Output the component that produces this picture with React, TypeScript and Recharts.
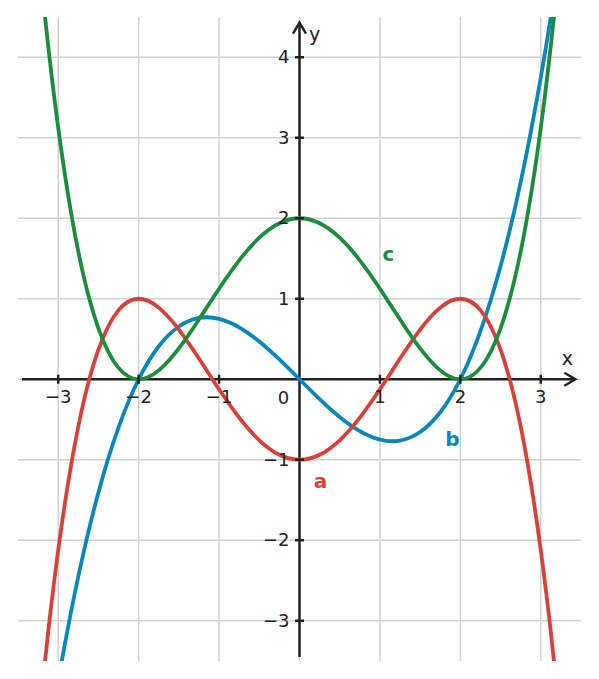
import { LineChart, Line, XAxis, YAxis, ReferenceLine, ReferenceDot } from 'recharts';

// sample points
const xValues = [
  -3.5, -3.25, -3, -2.75, -2.5, -2.25, -2, -1.75, -1.5, -1.25, -1, -0.75, -0.5, -0.25, 0,
  0.25, 0.5, 0.75, 1, 1.25, 1.5, 1.75, 2, 2.25, 2.5, 2.75, 3, 3.25, 3.5,
];
const aValues = [
  -7.508, -4.383, -2.125, -0.586, 0.367, 0.859, 1, 0.89, 0.617, 0.257, -0.125, -0.477, -0.758, -0.938, -1,
  -0.938, -0.758, -0.477, -0.125, 0.257, 0.617, 0.89, 1, 0.859, 0.367, -0.586, -2.125, -4.383, -7.508,
];
const bValues = [
  -7.219, -5.332, -3.75, -2.449, -1.406, -0.598, 0, 0.41, 0.656, 0.762, 0.75, 0.645, 0.469, 0.246, 0,
  -0.246, -0.469, -0.645, -0.75, -0.762, -0.656, -0.41, 0, 0.598, 1.406, 2.449, 3.75, 5.332, 7.219,
];
const cValues = [
  8.508, 5.383, 3.125, 1.586, 0.633, 0.141, 0, 0.11, 0.383, 0.743, 1.125, 1.477, 1.758, 1.938, 2,
  1.938, 1.758, 1.477, 1.125, 0.743, 0.383, 0.11, 0, 0.141, 0.633, 1.586, 3.125, 5.383, 8.508,
];

const xTicks = [-3, -2, -1, 1, 2, 3];
const yTicks = [-3, -2, -1, 1, 2, 3, 4];
const gridX = [-3, -2, -1, 0, 1, 2, 3];
const gridY = [-3, -2, -1, 0, 1, 2, 3, 4];

const curveLabels = [
  { name: 'a', x: 0.26, y: -1.354, color: '#d8413a' },
  { name: 'b', x: 1.9, y: -0.832, color: '#0a86be' },
  { name: 'c', x: 1.107, y: 1.466, color: '#1b8d3d' },
];

const data = xValues.map((x, i) => ({ x, a: aValues[i], b: bValues[i], c: cValues[i] }));

const INK = '#222222';
const GRID = '#d3d3d3';
const FONT = '"DejaVu Sans", sans-serif';
const minus = (v: number) => (v < 0 ? '\u2212' + Math.abs(v) : String(v));

const ArrowAxis = (props: any) => {
  const { x1, y1, x2, y2 } = props;
  const len = Math.hypot(x2 - x1, y2 - y1) || 1;
  const ux = (x2 - x1) / len;
  const uy = (y2 - y1) / len;
  const bx = x2 - ux * 11;
  const by = y2 - uy * 11;
  const px = -uy * 6.5;
  const py = ux * 6.5;
  return (
    <g>
      <line x1={x1} y1={y1} x2={x2} y2={y2} stroke={INK} strokeWidth={2.5} />
      <polyline
        points={`${bx + px},${by + py} ${x2},${y2} ${bx - px},${by - py}`}
        fill="none"
        stroke={INK}
        strokeWidth={2.5}
        strokeLinejoin="miter"
      />
    </g>
  );
};

export default function App() {
  return (
    <div style={{ position: 'absolute', left: 0, top: 0, background: '#fff' }}>
      <LineChart width={599} height={679} data={data} margin={{ top: 17, right: 18, bottom: 18, left: 18 }}>
        <XAxis dataKey="x" type="number" domain={[-3.5, 3.5]} allowDataOverflow hide />
        <YAxis type="number" domain={[-3.5, 4.5]} allowDataOverflow hide />
        {gridX.map(g => (
          <ReferenceLine key={'gx' + g} x={g} stroke={GRID} strokeWidth={1.5} />
        ))}
        {gridY.map(g => (
          <ReferenceLine key={'gy' + g} y={g} stroke={GRID} strokeWidth={1.5} />
        ))}
        <ReferenceLine
          segment={[{ x: -3.45, y: 0 }, { x: 3.43, y: 0 }]}
          shape={(p: any) => <ArrowAxis {...p} />}
        />
        <ReferenceLine
          segment={[{ x: 0, y: -3.45 }, { x: 0, y: 4.43 }]}
          shape={(p: any) => <ArrowAxis {...p} />}
        />
        {xTicks.map(t => (
          <ReferenceDot
            key={'xt' + t}
            x={t}
            y={0}
            r={0}
            shape={(p: any) => (
              <g>
                <line x1={p.cx} y1={p.cy - 4.5} x2={p.cx} y2={p.cy + 4.5} stroke={INK} strokeWidth={2.5} />
                <text x={p.cx} y={p.cy + 24} textAnchor="middle" fontFamily={FONT} fontSize={18} fill={INK}>
                  {minus(t)}
                </text>
              </g>
            )}
          />
        ))}
        {yTicks.map(t => (
          <ReferenceDot
            key={'yt' + t}
            x={0}
            y={t}
            r={0}
            shape={(p: any) => (
              <g>
                <line x1={p.cx - 4.5} y1={p.cy} x2={p.cx + 4.5} y2={p.cy} stroke={INK} strokeWidth={2.5} />
                <text x={p.cx - 10} y={p.cy + 6} textAnchor="end" fontFamily={FONT} fontSize={18} fill={INK}>
                  {minus(t)}
                </text>
              </g>
            )}
          />
        ))}
        <ReferenceDot
          x={0}
          y={0}
          r={0}
          shape={(p: any) => (
            <text x={p.cx - 16} y={p.cy + 25} textAnchor="middle" fontFamily={FONT} fontSize={18} fill={INK}>
              0
            </text>
          )}
        />
        <ReferenceDot
          x={3.43}
          y={0}
          r={0}
          shape={(p: any) => (
            <text x={p.cx - 8} y={p.cy - 14} textAnchor="middle" fontFamily={FONT} fontSize={19} fill={INK}>
              x
            </text>
          )}
        />
        <ReferenceDot
          x={0}
          y={4.43}
          r={0}
          shape={(p: any) => (
            <text x={p.cx + 15} y={p.cy + 18} textAnchor="middle" fontFamily={FONT} fontSize={19} fill={INK}>
              y
            </text>
          )}
        />
        <Line dataKey="b" type="natural" stroke="#0a86be" strokeWidth={3.8} dot={false} activeDot={false} isAnimationActive={false} />
        <Line dataKey="a" type="natural" stroke="#d8413a" strokeWidth={3.8} dot={false} activeDot={false} isAnimationActive={false} />
        <Line dataKey="c" type="natural" stroke="#1b8d3d" strokeWidth={3.8} dot={false} activeDot={false} isAnimationActive={false} />
        {curveLabels.map(l => (
          <ReferenceDot
            key={l.name}
            x={l.x}
            y={l.y}
            r={0}
            shape={(p: any) => (
              <text x={p.cx} y={p.cy} textAnchor="middle" fontFamily={FONT} fontWeight="bold" fontSize={20} fill={l.color}>
                {l.name}
              </text>
            )}
          />
        ))}
      </LineChart>
    </div>
  );
}
